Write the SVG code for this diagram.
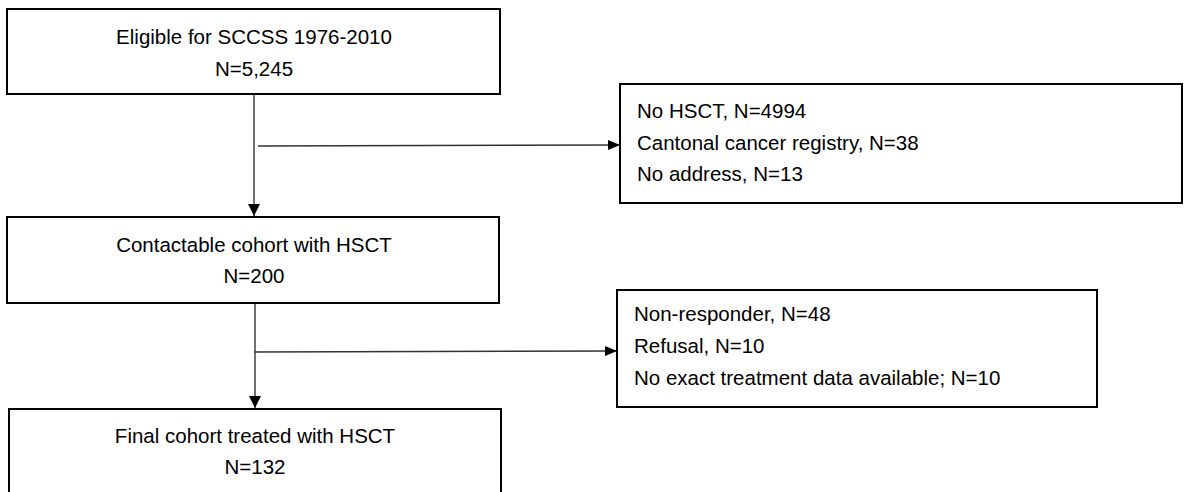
<svg xmlns="http://www.w3.org/2000/svg" width="1186" height="492" viewBox="0 0 1186 492">
<style>
.box{fill:#fff;stroke:#000;stroke-width:2}
.t{font-family:"Liberation Sans",Arial,sans-serif;font-size:20.5px;fill:#000}
.c{text-anchor:middle}
.conn{stroke:#333;stroke-width:1.4;fill:none}
</style>
<defs>
<marker id="ah" markerWidth="12" markerHeight="10" refX="11" refY="5" orient="auto" markerUnits="userSpaceOnUse">
<path d="M0,0 L12,5 L0,10 Z" fill="#000"/>
</marker>
<marker id="av" markerWidth="14" markerHeight="12" refX="12" refY="6" orient="auto" markerUnits="userSpaceOnUse">
<path d="M0,0 L12,6 L0,12 Z" fill="#000"/>
</marker>
</defs>
<g id="connectors">
<line class="conn" x1="254" y1="94" x2="254" y2="216" marker-end="url(#av)"/>
<line class="conn" x1="258" y1="146" x2="619" y2="145" marker-end="url(#ah)"/>
<line class="conn" x1="255" y1="303" x2="255" y2="408" marker-end="url(#av)"/>
<line class="conn" x1="255" y1="352" x2="616" y2="351" marker-end="url(#ah)"/>
</g>
<g id="n1">
<rect class="box" x="7" y="9" width="493" height="85"/>
<text class="t c" x="254" y="44">Eligible for SCCSS 1976-2010</text>
<text class="t c" x="254" y="76">N=5,245</text>
</g>
<g id="n2">
<rect class="box" x="620" y="84" width="562" height="119"/>
<text class="t" x="637" y="118">No HSCT, N=4994</text>
<text class="t" x="637" y="150">Cantonal cancer registry, N=38</text>
<text class="t" x="637" y="181">No address, N=13</text>
</g>
<g id="n3">
<rect class="box" x="7" y="217" width="492" height="86"/>
<text class="t c" x="254" y="252">Contactable cohort with HSCT</text>
<text class="t c" x="254" y="283">N=200</text>
</g>
<g id="n4">
<rect class="box" x="617" y="290" width="480" height="117"/>
<text class="t" x="634" y="321">Non-responder, N=48</text>
<text class="t" x="634" y="353">Refusal, N=10</text>
<text class="t" x="634" y="385">No exact treatment data available; N=10</text>
</g>
<g id="n5">
<rect class="box" x="9" y="409" width="492" height="95"/>
<text class="t c" x="255" y="443">Final cohort treated with HSCT</text>
<text class="t c" x="255" y="474">N=132</text>
</g>
</svg>
